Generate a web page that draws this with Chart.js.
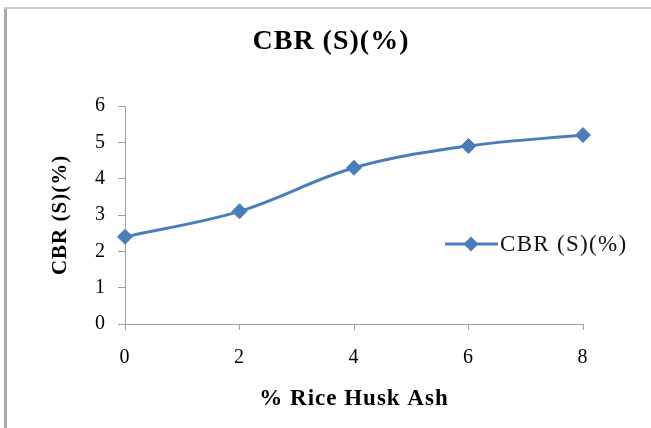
<!DOCTYPE html>
<html>
<head>
<meta charset="utf-8">
<script src="https://cdn.jsdelivr.net/npm/chart.js@4/dist/chart.umd.min.js"></script>
<style>
  html, body { margin: 0; padding: 0; background: #fff; }
  #wrap { width: 651px; height: 428px; position: relative; }
</style>
</head>
<body>
<div id="wrap"><canvas id="c"></canvas></div>
<script>
const titleText = "CBR (S)(%)";
const xTitle = "% Rice Husk Ash";
const yTitle = "CBR (S)(%)";
const seriesName = "CBR (S)(%)";
const rhaPercent = [0, 2, 4, 6, 8];
const cbrValues = [2.4, 3.1, 4.3, 4.9, 5.2];

const FONT = "'Liberation Serif', 'Times New Roman', serif";
const BLUE = '#4a7ebb';
const AXIS = '#a0a0a0';

const framePlugin = {
  id: 'frame',
  beforeDraw(chart) {
    const ctx = chart.ctx;
    ctx.save();
    ctx.fillStyle = '#fff';
    ctx.fillRect(0, 0, chart.width, chart.height);
    ctx.fillStyle = '#a8a8a8';
    ctx.fillRect(4, 7, 3, chart.height - 7);
    ctx.fillStyle = '#c8c8c8';
    ctx.fillRect(4, 7, chart.width - 4, 2);
    ctx.restore();
    ctx.letterSpacing = '1px';
  },
  afterDraw(chart) {
    const ctx = chart.ctx;
    ctx.save();
    const y = 244;
    ctx.strokeStyle = BLUE;
    ctx.lineWidth = 3;
    ctx.beginPath();
    ctx.moveTo(445, y);
    ctx.lineTo(498, y);
    ctx.stroke();
    ctx.fillStyle = BLUE;
    ctx.beginPath();
    const cx = 471, r = 7.5;
    ctx.moveTo(cx, y - r);
    ctx.lineTo(cx + r, y);
    ctx.lineTo(cx, y + r);
    ctx.lineTo(cx - r, y);
    ctx.closePath();
    ctx.fill();
    ctx.fillStyle = '#111';
    ctx.letterSpacing = '1.3px';
    ctx.font = "23px " + FONT;
    ctx.textAlign = 'left';
    ctx.textBaseline = 'middle';
    ctx.fillText(seriesName, 500, y + 1);
    ctx.restore();
    ctx.letterSpacing = '0px';
  }
};

const points = rhaPercent.map((x, i) => ({ x: x, y: cbrValues[i] }));

new Chart(document.getElementById('c'), {
  type: 'line',
  data: {
    datasets: [{
      label: seriesName,
      data: points,
      borderColor: BLUE,
      backgroundColor: BLUE,
      borderWidth: 3,
      tension: 0.35,
      pointStyle: 'rectRot',
      pointRadius: 7.5,
      pointHoverRadius: 7.5,
      pointBackgroundColor: BLUE,
      pointBorderColor: BLUE,
      pointBorderWidth: 1,
      clip: false,
      yAxisID: 'y'
    }]
  },
  options: {
    responsive: true,
    maintainAspectRatio: false,
    animation: false,
    events: [],
    layout: { padding: { left: 11, right: 0, top: 0, bottom: 0 } },
    plugins: {
      legend: { display: false },
      tooltip: { enabled: false },
      title: {
        display: true,
        text: titleText,
        color: '#000',
        font: { family: FONT, size: 28, weight: 'bold' },
        padding: { top: 25, bottom: 47.4 }
      }
    },
    scales: {
      x: {
        type: 'linear',
        position: 'bottom',
        min: 0, max: 8,
        ticks: { stepSize: 2, color: '#000', font: { family: FONT, size: 20 }, padding: 16 },
        grid: { display: true, drawOnChartArea: false, drawTicks: true, tickLength: 6, color: AXIS, tickColor: AXIS },
        border: { display: true, color: AXIS, width: 1 },
        title: { display: true, text: xTitle, color: '#000', font: { family: FONT, size: 23, weight: 'bold' }, padding: { top: 0, bottom: 15 } },
        afterFit(scale) { scale.height = 104; }
      },
      y: {
        type: 'linear',
        position: 'left',
        min: 0, max: 6,
        ticks: { stepSize: 1, color: '#000', font: { family: FONT, size: 20 }, padding: 12 },
        grid: { display: true, drawOnChartArea: false, drawTicks: true, tickLength: 7, color: AXIS, tickColor: AXIS },
        border: { display: true, color: AXIS, width: 1 },
        title: { display: true, text: yTitle, color: '#000', font: { family: FONT, size: 21, weight: 'bold' }, padding: { top: 37, bottom: 0 } },
        afterFit(scale) { scale.width = 114; }
      },
      yRight: {
        type: 'linear',
        position: 'right',
        display: true,
        min: 0, max: 6,
        ticks: { display: false },
        grid: { display: false },
        border: { display: false },
        afterFit(scale) { scale.width = 68; }
      }
    }
  },
  plugins: [framePlugin]
});
</script>
</body>
</html>
